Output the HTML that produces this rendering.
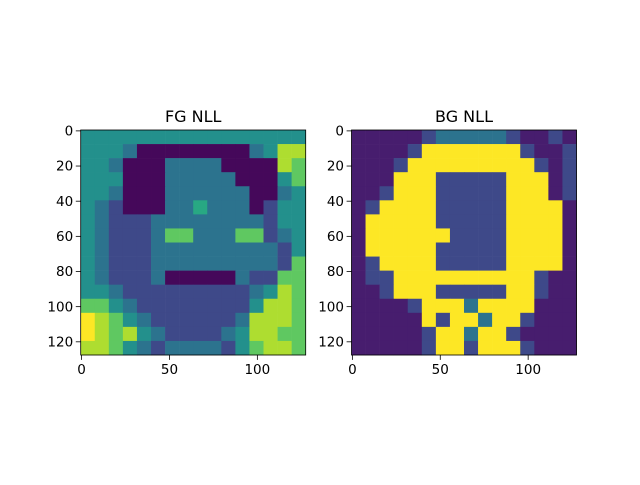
<!DOCTYPE html>
<html><head><meta charset="utf-8"><style>
body{margin:0;background:#fff;}
svg text{font-family:"DejaVu Sans","Liberation Sans",sans-serif;fill:#000;}
</style></head><body>
<svg id="fig" width="640" height="480" xmlns="http://www.w3.org/2000/svg">
<rect width="640" height="480" fill="#fff"/>
</svg>
<script>
// coarse 16x16 grids (each row covers 8 image rows), letter-coded values a..h
const levelKeys = ["a","b","c","d","e","f","g","h"];
const levelValues = [0.02,0.22,0.38,0.5,0.6,0.75,0.88,1.0];
const fgRows = [
"dddddddddddddddd",
"dddcaaaaaaaacdgg",
"ddcaaaccccaaaagf",
"dddaaacccccaaadf",
"ddcaaaccccccaacd",
"dcbaaaccecccabdd",
"dcbbbccccccccbdd",
"dcbbbcffcccffbcd",
"dcbbbcccccccccbd",
"dcbbbcccccccccbf",
"dcbbbcaaaaacbbff",
"ddcbbbbbbbbbcdgf",
"ffdcbbbbbbbbdggf",
"hgfdcbbbbbbcgggf",
"hgfgdcbbbbcdggff",
"ggfdcbccccbdfggf"];
const bgRows = [
"aaaaabcccccbaaba",
"aaaabhhhhhhhbaab",
"aaabhhhhhhhhhbab",
"aaahhhbbbbbhhhab",
"aabhhhbbbbbhhhab",
"abhhhhbbbbbhhhha",
"ahhhhhbbbbbhhhha",
"ahhhhhhbbbbhhhha",
"ahhhhhbbbbbhhhha",
"abhhhhbbbbbhhhha",
"abbhhhhhhhhhhbaa",
"aabhhhbbbbbhhbaa",
"aaaabhhhchhhhaaa",
"aaaaahbhhchhbaaa",
"aaaaabhhchhbaaaa",
"aaaaabhhbhhhbaaa"];
const tickLabels = [0,20,40,60,80,100,120];
const xTickLabels = [0,50,100];
const titles = ["FG NLL","BG NLL"];

const vir=[[68,1,84],[72,40,120],[62,74,137],[49,104,142],[38,130,142],[31,158,137],[53,183,121],[109,205,89],[180,222,44],[253,231,37]];
function cmap(t){t=Math.max(0,Math.min(1,t));const p=t*9,i=Math.min(8,Math.floor(p)),f=p-i;
const c=vir[i].map((v,k)=>Math.round(v+(vir[i+1][k]-v)*f));return `rgb(${c})`;}
const NS="http://www.w3.org/2000/svg",svgRoot=document.getElementById('fig');
function el(t,a,p){const e=document.createElementNS(NS,t);for(const k in a)e.setAttribute(k,a[k]);(p||svgRoot).appendChild(e);return e;}
const NPIX=128,axSize=225,axTop=130;
const lefts=[80.7,351.5];
function sx(L,v){return L+v*axSize/NPIX;}
function sy(v){return axTop+v*axSize/NPIX;}
[fgRows,bgRows].forEach((rows,pi)=>{
  const L=lefts[pi];
  const g=el('g',{});
  
  
  const step=NPIX/rows.length;
  rows.forEach((row,r)=>{[...row].forEach((ch,c)=>{
    let v=levelValues[levelKeys.indexOf(ch)];
    if(pi===1&&ch==='a')v=0.08;
    const x0=sx(L,c*step),y0=sy(r*step);
    const cell=el('rect',{x:x0,y:y0,width:axSize/rows.length+0.3,height:axSize/rows.length+0.3,fill:cmap(v)},g);
    
    
  });});
  const fr=el('rect',{x:L,y:axTop,width:axSize,height:axSize,fill:'none',stroke:'#000','stroke-width':0.8});
  
  
  const t=el('text',{x:L+axSize/2,y:axTop-8,'text-anchor':'middle','font-size':'16px'});
  t.textContent=titles[pi];
  
  
  tickLabels.forEach(v=>{const y=sy(v+0.5);
    el('line',{x1:L,x2:L-4.9,y1:y,y2:y,stroke:'#000','stroke-width':0.8});
    const tl=el('text',{x:L-7.5,y:y+4.6,'text-anchor':'end','font-size':'13.5px'});tl.textContent=v;
    
    });
  xTickLabels.forEach(v=>{const x=sx(L,v+0.5);
    el('line',{x1:x,x2:x,y1:axTop+axSize,y2:axTop+axSize+4.9,stroke:'#000','stroke-width':0.8});
    const tl=el('text',{x:x,y:axTop+axSize+19,'text-anchor':'middle','font-size':'13.5px'});tl.textContent=v;
    
    });
});
</script>
</body></html>
